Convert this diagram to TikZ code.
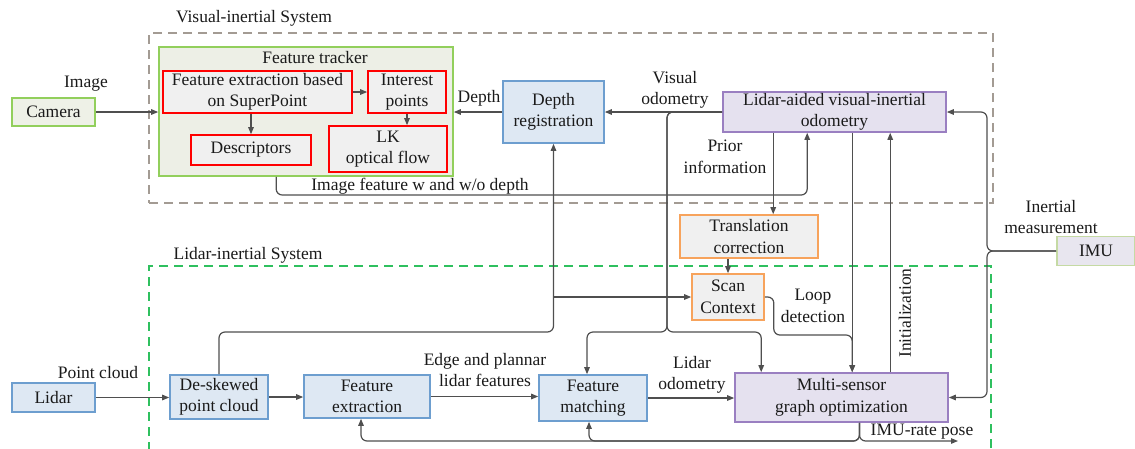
\documentclass[tikz,border=0pt]{standalone}
\usepackage{fontspec}
\setmainfont{Liberation Serif}
\usetikzlibrary{arrows.meta,calc}

\definecolor{greenb}{HTML}{92CF5C}
\definecolor{greenf}{HTML}{EEF1E7}
\definecolor{trackf}{HTML}{EDEFE6}
\definecolor{grayf}{HTML}{F0F0F0}
\definecolor{blueb}{HTML}{6D9ECF}
\definecolor{bluef}{HTML}{DEE8F3}
\definecolor{purpb}{HTML}{9A7FC1}
\definecolor{purpf}{HTML}{E5E1EF}
\definecolor{orangeb}{HTML}{F7A35C}
\definecolor{imub}{HTML}{C5DAA4}
\definecolor{imuf}{HTML}{E8E6EF}
\definecolor{linec}{HTML}{4F4F4F}
\definecolor{dashgray}{HTML}{A39B93}
\definecolor{dashgreen}{HTML}{2FC05F}
\definecolor{txt}{HTML}{1A1A1A}

\newcommand\diafont{\fontsize{17.5}{21.5}\selectfont}

\tikzset{
  box/.style={draw, line width=1.6pt, inner sep=0pt, align=center, font=\diafont, text=txt},
  greenbox/.style={box, draw=greenb, fill=greenf},
  trackerbox/.style={box, draw=greenb, fill=trackf},
  redbox/.style={box, draw=red, fill=grayf},
  bluebox/.style={box, draw=blueb, fill=bluef},
  purplebox/.style={box, draw=purpb, fill=purpf},
  orangebox/.style={box, draw=orangeb, fill=grayf},
  imubox/.style={box, draw=imub, fill=imuf},
  frame/.style={draw, line width=1.5pt, dash pattern=on 9pt off 6pt, inner sep=0pt},
  arr/.style={draw=linec, line width=1.2pt, -{Triangle[length=7pt,width=5.5pt]}},
  rc/.style={rounded corners=6pt},
  lbl/.style={font=\diafont, align=center, inner sep=0pt, text=txt},
}

\begin{document}
\begin{tikzpicture}[x=1pt,y=-1pt]
\useasboundingbox (0,0) rectangle (1135,448);
\clip (0,0) rectangle (1135,448);

% system frames
\node[frame, draw=dashgray, minimum width=844, minimum height=170] (vis) at (571,118) {};
\node[frame, draw=dashgreen, minimum width=842, minimum height=210] (lis) at (570,371) {};
\node[lbl] (vist) at (254,18) {Visual-inertial System};
\node[lbl] (list) at (248,255) {Lidar-inertial System};

% visual front end
\node[greenbox, minimum width=83, minimum height=28] (cam) at (53.5,112) {Camera};
\node[trackerbox, minimum width=294, minimum height=129] (trk) at (306,111.5) {};
\node[lbl] (trkt) at (315,58) {Feature tracker};
\node[redbox, minimum width=189, minimum height=42] (fex) at (257.5,92) {Feature extraction based\\on SuperPoint};
\node[redbox, minimum width=78, minimum height=42] (ip) at (407,92) {Interest\\points};
\node[redbox, minimum width=120, minimum height=30] (desc) at (251,150) {Descriptors};
\node[redbox, minimum width=118, minimum height=46] (lk) at (388,149) {LK\\optical flow};
\node[bluebox, minimum width=101, minimum height=62] (dr) at (553.5,112) {Depth\\registration};
\node[purplebox, minimum width=223, minimum height=40] (lav) at (834.5,112) {Lidar-aided visual-inertial\\odometry};

% loop closure
\node[orangebox, minimum width=138, minimum height=43] (tc) at (749,236.5) {Translation\\correction};
\node[orangebox, minimum width=72, minimum height=46] (sc) at (728,297) {Scan\\Context};

% IMU
\node[imubox, minimum width=78, minimum height=29] (imu) at (1096,251) {IMU};

% lidar pipeline
\node[bluebox, minimum width=83, minimum height=29] (lidar) at (53.5,397.5) {Lidar};
\node[bluebox, minimum width=98, minimum height=44] (ds) at (219,397) {De-skewed\\point cloud};
\node[bluebox, minimum width=126, minimum height=43] (fx) at (367,396.5) {Feature\\extraction};
\node[bluebox, minimum width=108, minimum height=46] (fm) at (593,398) {Feature\\matching};
\node[purplebox, minimum width=213, minimum height=49] (ms) at (841.5,397.5) {Multi-sensor\\graph optimization};

% helper points
\coordinate (imgf) at ($(trk.south west)+(118,0)$);
\coordinate (imgin) at ($(lav.south west)+(85,0)$);
\coordinate (imgy) at (0,195);
\coordinate (pri) at ($(lav.south west)+(51,0)$);
\coordinate (split) at (667,332);
\coordinate (fmin) at ($(fm.north)+(-6,0)$);
\coordinate (msin) at ($(ms.north west)+(27,0)$);
\coordinate (lv) at ($(lav.south west)+(130,0)$);
\coordinate (loopy) at (0,335);
\coordinate (ini) at ($(ms.north west)+(156,0)$);
\coordinate (imux) at (987,0);
\coordinate (ob) at ($(ms.south)+(18,0)$);
\coordinate (boty) at (0,441);
\coordinate (fxin) at ($(fx.south)+(-6,0)$);
\coordinate (fmout) at ($(fm.south)+(-4,0)$);
\coordinate (poseend) at (958,441);

% visual connectors
\draw[arr] (cam.east) -- (cam.east -| trk.west);
\draw[arr] (fex.east) -- (ip.west);
\draw[arr] (fex.south -| desc.north) -- (desc.north);
\draw[arr] (ip.south) -- (ip.south |- lk.north);
\draw[arr] (dr.west) -- (dr.west -| trk.east);
\draw[arr] (lav.west) -- (dr.east);
\draw[arr,rc] (imgf) |- (imgy -| imgin) -- (imgin);
\draw[arr] (pri) -- (pri |- tc.north);
\draw[arr] (sc.north |- tc.south) -- (sc.north);

% odometry to the lidar back end
\draw[arr,rc] (lav.west) -| (split) -| (fmin);
\draw[arr,rc] (lav.west) -| (split) -| (msin);
\draw[arr] (lv) -- (lv |- ms.north);
\draw[arr] (ini) -- (ini |- lav.south);

% de-skewed cloud to depth registration and scan context
\draw[arr,rc] (ds.north) |- (split -| dr.south) -- (dr.south);
\draw[arr] (dr.south |- sc.west) -- (sc.west);
\draw[arr,rc] (sc.east) -- ++(9,0) |- (loopy -| lv) -- (lv |- ms.north);

% IMU inputs
\draw[arr,rc] (imu.west) -| (imux |- lav.east) -- (lav.east);
\draw[arr,rc] (imu.west) -| (imux |- ms.east) -- (ms.east);

% lidar chain
\draw[arr] (lidar.east) -- (lidar.east -| ds.west);
\draw[arr] (ds.east) -- (ds.east -| fx.west);
\draw[arr] (fx.east) -- (fx.east -| fm.west);
\draw[arr] (fm.east) -- (fm.east -| ms.west);

% feedback from the optimizer
\draw[arr,rc] (ob) |- (boty -| fxin) -- (fxin);
\draw[arr,rc] (ob) |- (boty -| fmout) -- (fmout);
\draw[arr,rc] (ob) |- (poseend);

% connector labels
\node[lbl] (limg) at (86,84) {Image};
\node[lbl] (ldep) at (479,98) {Depth};
\node[lbl] (lvo) at (675,90) {Visual\\odometry};
\node[lbl] (lpri) at (725,157) {Prior\\information};
\node[lbl] (lfeat) at (420,186) {Image feature w and w/o depth};
\node[lbl] (limu) at (1051,217) {Inertial\\measurement};
\node[lbl] (lpc) at (98,373) {Point cloud};
\node[lbl] (ledge) at (485,370) {Edge and plannar\\lidar features};
\node[lbl] (llo) at (692,375) {Lidar\\odometry};
\node[lbl] (lloop) at (813,306) {Loop\\detection};
\node[lbl, rotate=90] (linit) at (905,313) {Initialization};
\node[lbl] (lpose) at (922,432) {IMU-rate pose};
\end{tikzpicture}
\end{document}
